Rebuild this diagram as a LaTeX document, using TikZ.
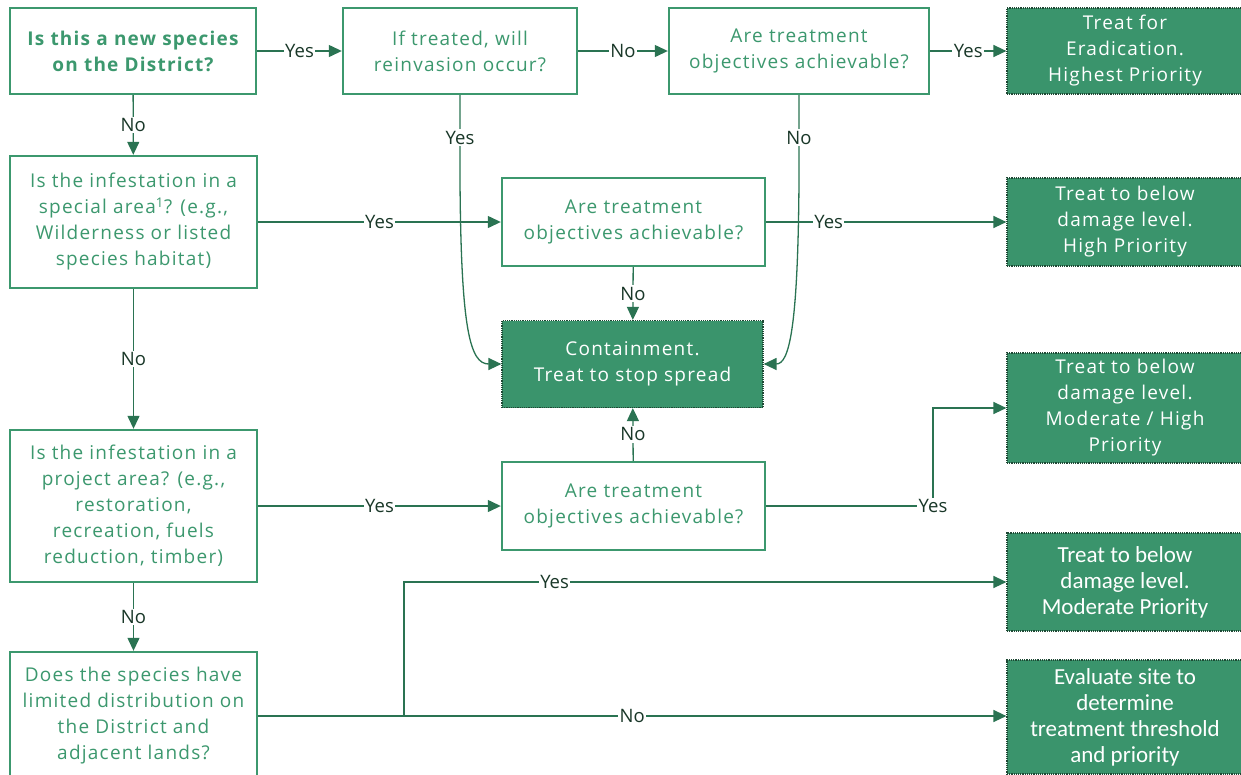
\documentclass[tikz,border=0pt]{standalone}
\usepackage{fontspec}
\setmainfont{Open Sans}
\newfontfamily\qfont{Open Sans}[LetterSpace=6.5]
\newfontfamily\lblfont{Open Sans}
\newfontfamily\calfont{Carlito}
\usetikzlibrary{arrows.meta}
\definecolor{qgreen}{RGB}{60,152,110}
\definecolor{tfill}{RGB}{58,148,108}
\definecolor{tborder}{RGB}{30,72,52}
\definecolor{lgreen}{RGB}{42,115,82}
\definecolor{lbltext}{RGB}{25,55,40}
\begin{document}
\begin{tikzpicture}[x=1pt,y=-1pt,
  qbox/.style={draw=qgreen, line width=2.4pt, fill=white, text=qgreen, align=center,
    font=\qfont\fontsize{19}{26}\selectfont, inner sep=0pt},
  tbox/.style={draw=tborder, densely dotted, line width=1.2pt, fill=tfill, text=white, align=center,
    font=\qfont\fontsize{19}{26}\selectfont, inner sep=0pt},
  cbox/.style={tbox, font=\calfont\fontsize{23}{26}\selectfont},
  conn/.style={draw=lgreen, line width=1.3pt, -{Triangle[length=13pt,width=12pt]}},
  lbl/.style={fill=white, text=lbltext, font=\lblfont\fontsize{18.5}{20}\selectfont, inner sep=1.5pt}]
\useasboundingbox (0,0) rectangle (1241,774);

% question boxes
\node[qbox, minimum width=246pt, minimum height=86pt, font=\qfont\bfseries\fontsize{19}{26}\selectfont] (A) at (133,51) {Is this a new species\\on the District?};
\node[qbox, minimum width=234pt, minimum height=86pt] (B) at (460,51) {If treated, will\\reinvasion occur?};
\node[qbox, minimum width=260pt, minimum height=86pt] (C) at (799,51) {Are treatment\\objectives achievable?};
\node[qbox, minimum width=247pt, minimum height=132pt] (E) at (133.5,222) {Is the infestation in a\\special area\textsuperscript{1}? (e.g.,\\Wilderness or listed\\species habitat)};
\node[qbox, minimum width=263pt, minimum height=88pt] (F) at (633.5,222) {Are treatment\\objectives achievable?};
\node[qbox, minimum width=247pt, minimum height=152pt] (I) at (133.5,506) {Is the infestation in a\\project area? (e.g.,\\restoration,\\recreation, fuels\\reduction, timber)};
\node[qbox, minimum width=263pt, minimum height=88pt] (J) at (633.5,506) {Are treatment\\objectives achievable?};
\node[qbox, minimum width=247pt, minimum height=128pt] (L) at (133.5,716) {Does the species have\\limited distribution on\\the District and\\adjacent lands?};

% terminal boxes
\node[tbox, minimum width=236pt, minimum height=86pt] (D) at (1125,51) {Treat for\\Eradication.\\Highest Priority};
\node[tbox, minimum width=236pt, minimum height=88pt] (G) at (1125,222) {Treat to below\\damage level.\\High Priority};
\node[tbox, minimum width=261pt, minimum height=87pt] (H) at (632.5,364) {Containment.\\Treat to stop spread};
\node[tbox, minimum width=236pt, minimum height=110pt] (K) at (1125,408) {Treat to below\\damage level.\\Moderate / High\\Priority};
\node[cbox, minimum width=236pt, minimum height=98pt] (M) at (1125,582) {Treat to below\\damage level.\\Moderate Priority};
\node[cbox, minimum width=236pt, minimum height=114pt] (N) at (1125,717) {Evaluate site to\\determine\\treatment threshold\\and priority};

% helper coordinates
\coordinate (bc) at (460,180);
\coordinate (cc) at (799,180);
\coordinate (jk) at (933,506);
\coordinate (lm) at (404,716);

% connectors
\draw[conn] (A) -- node[lbl]{Yes} (B);
\draw[conn] (B) -- node[lbl]{No} (C);
\draw[conn] (C) -- node[lbl]{Yes} (D);
\draw[conn] (A) -- node[lbl]{No} (E);
\draw[conn] (E.east) -- node[lbl]{Yes} (E.east -| F.west);
\draw[conn] (F.east) -- node[lbl, pos=0.26]{Yes} (F.east -| G.west);
\draw[conn] (F) -- node[lbl]{No} (H);
\draw[conn] (B.south) -- node[lbl]{Yes} (bc) .. controls (461,330) and (470,364) .. (H.west);
\draw[conn] (C.south) -- node[lbl]{No} (cc) .. controls (798,330) and (789,364) .. (H.east);
\draw[conn] (E) -- node[lbl]{No} (I);
\draw[conn] (I.east) -- node[lbl]{Yes} (I.east -| J.west);
\draw[conn] (J) -- node[lbl]{No} (H);
\draw[conn] (J.east) -- (jk) node[lbl]{Yes} |- (K.west);
\draw[conn] (I) -- node[lbl]{No} (L);
\draw[conn] (L.east) -- (lm) |- node[lbl, pos=0.625]{Yes} (M.west);
\draw[conn] (L.east) -- node[lbl]{No} (L.east -| N.west);
\end{tikzpicture}
\end{document}
